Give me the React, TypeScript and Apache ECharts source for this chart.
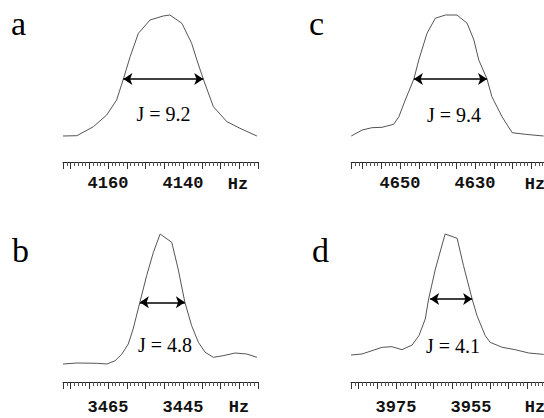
import React, { useEffect, useRef } from "react";
import * as echarts from "echarts";

// Panel a
const hzA = [4172, 4168.3, 4163.9, 4160.35, 4157.7, 4155.9, 4154.1, 4151.9, 4148.8, 4145.3, 4143.5, 4140.3, 4137.7, 4136.3, 4134.6, 4131.9, 4128.3, 4124.8, 4120.3];
const intA = [0, 0.3, 9.3, 21, 36, 57, 79.3, 102.7, 116, 120, 121, 112.7, 92.7, 76, 57, 29.3, 14.3, 7.7, 0];
const ticksA = [4160, 4140];
const arrowA = [4155.9, 4134.6];
const arrowYA = 57;
const jA = "J = 9.2";

// Panel b
const hzB = [3477, 3473.3, 3468.0, 3465.3, 3463.1, 3461.3, 3459.6, 3458.3, 3456.5, 3454.7, 3452.9, 3451.1, 3448.0, 3446.3, 3444.5, 3442.7, 3440.9, 3439.1, 3436.9, 3434.3, 3431.1, 3428.0, 3425.3];
const intB = [0, 1, 0.7, 0, 3.3, 10, 20, 35, 61.7, 88.3, 111.7, 130, 121.7, 95, 61.7, 38.3, 21.7, 11.7, 6.7, 8.3, 11, 10, 6.7];
const ticksB = [3465, 3445];
const arrowB = [3456.5, 3444.5];
const arrowYB = 61.7;
const jB = "J = 4.8";

// Panel c
const hzC = [4663, 4660.1, 4657.5, 4654.8, 4651.7, 4650.3, 4648.6, 4646.3, 4645.0, 4642.8, 4640.6, 4637.9, 4634.8, 4632.1, 4630.3, 4629.0, 4626.8, 4625.5, 4622.8, 4620.1, 4616.6, 4611.7];
const intC = [0, 6, 8.3, 8.7, 11.7, 19.3, 36, 57, 76, 102.7, 117.7, 121, 121, 112.7, 96, 76, 57, 39.3, 19.3, 3.3, 1.7, 0];
const ticksC = [4650, 4630];
const arrowC = [4646.3, 4626.8];
const arrowYC = 57;
const jC = "J = 9.4";

// Panel d
const hzD = [3987, 3984.1, 3981.4, 3978.7, 3976.1, 3973.4, 3970.7, 3968.9, 3967.2, 3966.3, 3964.5, 3961.9, 3958.7, 3957.0, 3954.7, 3953.4, 3951.2, 3949.9, 3946.7, 3943.2, 3939.6, 3935.6];
const intD = [0, 1, 4.3, 7.7, 8.3, 5.3, 10, 19.3, 36, 56, 86, 121, 116.7, 89.3, 56, 39.3, 19.3, 12.7, 7.7, 5.3, 2, 0.6];
const ticksD = [3975, 3955];
const arrowD = [3965.9, 3954.7];
const arrowYD = 56;
const jD = "J = 4.1";

const panelLetters = ["a", "b", "c", "d"];
const unitLabel = "Hz";

export default function App() {
  const ref = useRef<HTMLDivElement>(null);
  useEffect(() => {
    if (!ref.current) return;
    const chart = echarts.init(ref.current, undefined, { renderer: "svg" });

    const panels = [
      { hz: hzA, y: intA, ticks: ticksA, arrow: arrowA, ay: arrowYA, min: 4120, max: 4172, yMin: -26, yMax: 125,
        grid: { left: 63, top: 11, height: 151, width: 195 }, margin: 13 },
      { hz: hzB, y: intB, ticks: ticksB, arrow: arrowB, ay: arrowYB, min: 3425, max: 3477, yMin: -18, yMax: 135,
        grid: { left: 63, top: 229, height: 153, width: 195 }, margin: 17 },
      { hz: hzC, y: intC, ticks: ticksC, arrow: arrowC, ay: arrowYC, min: 4610, max: 4663, yMin: -26, yMax: 125,
        grid: { left: 351.25, top: 11, height: 151, width: 198.75 }, margin: 13 },
      { hz: hzD, y: intD, ticks: ticksD, arrow: arrowD, ay: arrowYD, min: 3935, max: 3987, yMin: -27, yMax: 125,
        grid: { left: 351, top: 230, height: 152, width: 195 }, margin: 17 },
    ];

    const grids = panels.map((p) => ({ ...p.grid, containLabel: false, outerBoundsMode: "none" }));
    const xAxes = panels.map((p, i) => ({
      type: "value",
      gridIndex: i,
      inverse: true,
      min: p.min,
      max: p.max,
      interval: 5,
      splitLine: { show: false },
      axisLine: { show: true, onZero: false, lineStyle: { color: "#222", width: 1 } },
      axisTick: { show: true, length: 7, lineStyle: { color: "#333", width: 1 } },
      minorTick: { show: true, splitNumber: 5, length: 4, lineStyle: { color: "#555", width: 1 } },
      minorSplitLine: { show: false },
      axisLabel: {
        show: true,
        interval: 0,
        margin: p.margin,
        fontFamily: "Liberation Mono",
        fontWeight: "bold",
        fontSize: 17,
        lineHeight: 17,
        color: "#111",
        showMinLabel: true,
        showMaxLabel: true,
        formatter: (v: number) => (p.ticks.includes(Math.round(v)) && Math.abs(v - Math.round(v)) < 1e-6 ? String(Math.round(v)) : ""),
      },
    }));
    const yAxes = panels.map((p, i) => ({
      type: "value",
      gridIndex: i,
      min: p.yMin,
      max: p.yMax,
      show: false,
    }));
    const series = panels.map((p, i) => ({
      type: "line",
      xAxisIndex: i,
      yAxisIndex: i,
      showSymbol: false,
      symbol: "none",
      smooth: false,
      lineStyle: { color: "#555", width: 1 },
      data: p.hz.map((h, k) => [h, p.y[k]]),
      markLine: {
        silent: true,
        symbol: ["arrow", "arrow"],
        symbolSize: 9,
        label: { show: false },
        lineStyle: { color: "#000", width: 1.5, type: "solid" },
        data: [[{ coord: [p.arrow[0], p.ay] }, { coord: [p.arrow[1], p.ay] }]],
      },
    }));

    const serif = "Liberation Serif";
    const letterPos = [
      { x: 11, y: 23.5 },
      { x: 12, y: 250.5 },
      { x: 309, y: 23.5 },
      { x: 312, y: 250.5 },
    ];
    const jTexts = [jA, jB, jC, jD];
    const jPos = [
      { x: 163.5, y: 114 },
      { x: 165, y: 345 },
      { x: 454, y: 115 },
      { x: 453, y: 346 },
    ];
    const hzPos = [
      { x: 238, y: 184 },
      { x: 239, y: 407.5 },
      { x: 535, y: 184 },
      { x: 535, y: 407.5 },
    ];
    const graphic: any[] = [];
    panelLetters.forEach((t, i) => {
      graphic.push({
        type: "text",
        x: letterPos[i].x,
        y: letterPos[i].y,
        style: { text: t, fontFamily: serif, fontSize: 34, fill: "#000", textAlign: "left", textVerticalAlign: "middle" },
      });
      graphic.push({
        type: "text",
        x: jPos[i].x,
        y: jPos[i].y,
        style: { text: jTexts[i], fontFamily: serif, fontSize: 20, fill: "#000", textAlign: "center", textVerticalAlign: "middle" },
      });
      graphic.push({
        type: "text",
        x: hzPos[i].x,
        y: hzPos[i].y,
        style: { text: unitLabel, fontFamily: "Liberation Mono", fontWeight: "bold", fontSize: 17, lineHeight: 17, fill: "#111", textAlign: "center", textVerticalAlign: "middle" },
      });
    });

    chart.setOption({
      animation: false,
      backgroundColor: "#fff",
      grid: grids,
      xAxis: xAxes,
      yAxis: yAxes,
      series,
      graphic,
    });
    return () => chart.dispose();
  }, []);
  return <div ref={ref} style={{ position: "fixed", left: 0, top: 0, width: 544, height: 418 }} />;
}
